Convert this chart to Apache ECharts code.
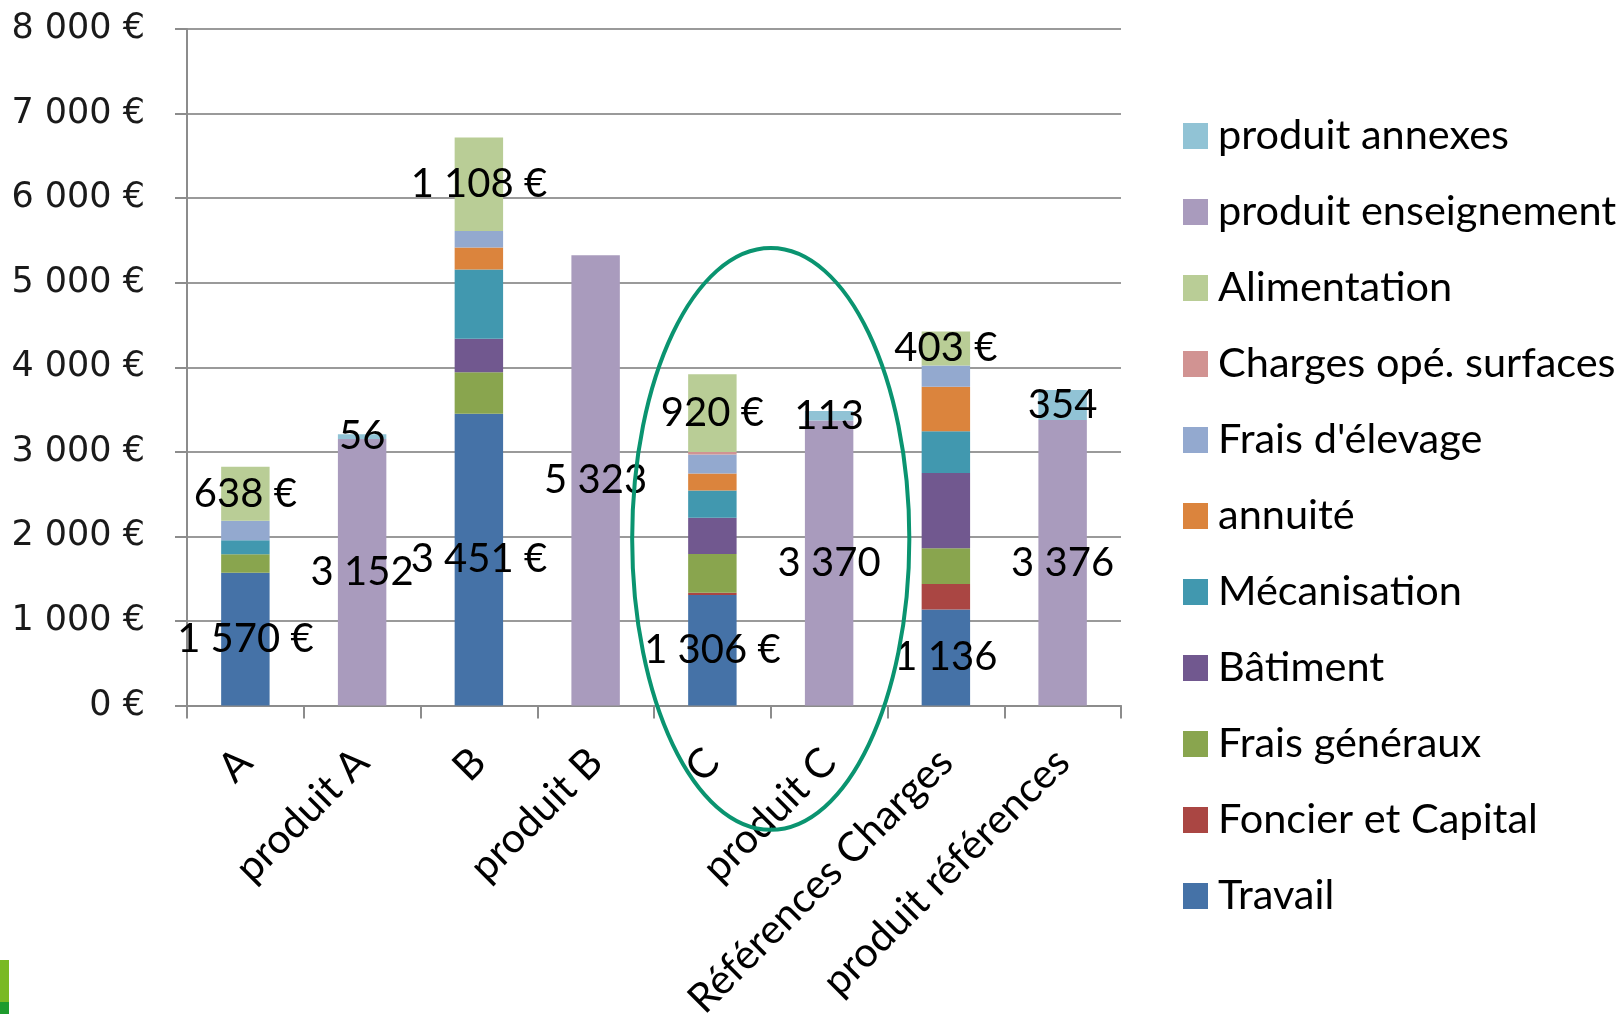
<!DOCTYPE html>
<html><head><meta charset="utf-8">
<script src="https://cdn.jsdelivr.net/npm/echarts@6/dist/echarts.min.js"></script>
<style>html,body{margin:0;padding:0;background:#fff}#c{width:1620px;height:1014px}</style>
</head><body><div id="c"></div>
<script>
// ---- data ----
const categories = ['A', 'produit A', 'B', 'produit B', 'C', 'produit C', 'Références Charges', 'produit références'];
const travail            = [1570, null, 3451, null, 1306, null, 1136, null];
const foncierCapital     = [0,    null, 0,    null, 28,   null, 300,  null];
const fraisGeneraux      = [220,  null, 490,  null, 457,  null, 423,  null];
const batiment           = [0,    null, 397,  null, 429,  null, 889,  null];
const mecanisation       = [165,  null, 817,  null, 323,  null, 494,  null];
const annuite            = [0,    null, 261,  null, 201,  null, 526,  null];
const fraisElevage       = [230,  null, 194,  null, 225,  null, 253,  null];
const chargesSurfaces    = [0,    null, 0,    null, 28,   null, 0,    null];
const alimentation       = [638,  null, 1108, null, 920,  null, 403,  null];
const produitEnseignement= [null, 3152, null, 5323, null, 3370, null, 3376];
const produitAnnexes     = [null, 56,   null, 0,    null, 113,  null, 354];
const travailEuroLabel   = [true, false, true, false, true, false, false, false];
const yMin = 0, yMax = 8000, yStep = 1000;
// annotation ellipse (in data terms)
const ellipseCats = ['C', 'produit C'];
const ellipseCenterValue = 1970;
const ellipseHalfValue = 3440;
const ellipseHalfCats = 1.187;

const fmt = v => String(Math.round(v)).replace(/\B(?=(\d{3})+(?!\d))/g, ' ');
const FONT = 'Lato';
const lbl = (fn) => ({
  show: true, position: 'inside', color: '#000', fontFamily: FONT, fontSize: 40,
  formatter: fn
});

const seriesDefs = [
  ['Travail', travail, '#4572A7', lbl(p => p.value ? fmt(p.value) + (travailEuroLabel[p.dataIndex] ? ' €' : '') : '')],
  ['Foncier et Capital', foncierCapital, '#AA4643', null],
  ['Frais généraux', fraisGeneraux, '#89A54E', null],
  ['Bâtiment', batiment, '#71588F', null],
  ['Mécanisation', mecanisation, '#4198AF', null],
  ['annuité', annuite, '#DB843D', null],
  ["Frais d'élevage", fraisElevage, '#93A9CF', null],
  ['Charges opé. surfaces', chargesSurfaces, '#D19392', null],
  ['Alimentation', alimentation, '#B9CD96', lbl(p => p.value ? fmt(p.value) + ' €' : '')],
  ['produit enseignement', produitEnseignement, '#A99BBD', lbl(p => p.value ? fmt(p.value) : '')],
  ['produit annexes', produitAnnexes, '#91C3D5', lbl(p => p.value ? fmt(p.value) : '')]
];

const series = seriesDefs.map(([name, data, color, label]) => ({
  name, type: 'bar', stack: 'total', data,
  barWidth: '41.5%',
  itemStyle: { color },
  label: label || { show: false },
  emphasis: { disabled: true },
  animation: false
}));

const chart = echarts.init(document.getElementById('c'), null, { renderer: 'canvas' });
chart.setOption({
  animation: false,
  backgroundColor: '#fff',
  grid: { left: 187, right: 499, top: 29, bottom: 308.5, containLabel: false, outerBoundsMode: 'none' },
  legend: {
    orient: 'vertical', left: 1178, top: 110,
    itemWidth: 25, itemHeight: 26, itemGap: 34, icon: 'rect',
    data: seriesDefs.map(d => d[0]).reverse(),
    textStyle: { fontFamily: FONT, fontSize: 41.5, color: '#000', lineHeight: 40, padding: [0, 0, 0, 5] },
    selectedMode: false
  },
  xAxis: {
    type: 'category', data: categories,
    axisLine: { lineStyle: { color: '#8c8c8c', width: 2 } },
    axisTick: { show: true, length: 13, lineStyle: { color: '#8c8c8c', width: 2 } },
    axisLabel: { rotate: 45, margin: 50, fontFamily: FONT, fontSize: 41, color: '#000', interval: 0 }
  },
  yAxis: {
    type: 'value', min: yMin, max: yMax, interval: yStep,
    axisLine: { show: true, lineStyle: { color: '#8c8c8c', width: 2 } },
    axisTick: { show: true, length: 12, lineStyle: { color: '#8c8c8c', width: 2 } },
    splitLine: { lineStyle: { color: '#9a9a9a', width: 2 } },
    axisLabel: { margin: 42, fontFamily: 'DejaVu Sans', fontSize: 35, color: '#1a1a1a', padding: [6, 0, 0, 0], formatter: v => fmt(v) + ' €' }
  },
  series
});

const x1 = chart.convertToPixel({ xAxisIndex: 0 }, ellipseCats[0]);
const x2 = chart.convertToPixel({ xAxisIndex: 0 }, ellipseCats[1]);
const cy = chart.convertToPixel({ yAxisIndex: 0 }, ellipseCenterValue);
const ry = cy - chart.convertToPixel({ yAxisIndex: 0 }, ellipseCenterValue + ellipseHalfValue);
chart.setOption({
  graphic: [
    { type: 'ellipse', shape: { cx: (x1 + x2) / 2, cy, rx: (x2 - x1) * ellipseHalfCats, ry },
      style: { fill: 'none', stroke: '#0A9470', lineWidth: 4 }, z: 100 },
    { type: 'rect', left: 0, top: 960, shape: { width: 9, height: 42 }, style: { fill: '#7AB923' }, z: 100 },
    { type: 'rect', left: 0, top: 1002, shape: { width: 9, height: 12 }, style: { fill: '#1E9B2E' }, z: 100 }
  ]
});
</script></body></html>
